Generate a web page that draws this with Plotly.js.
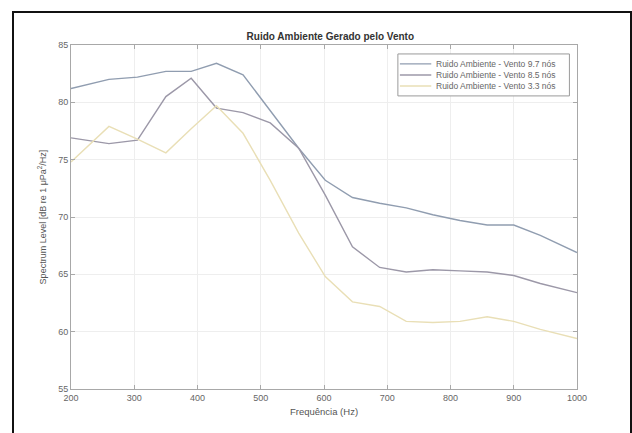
<!DOCTYPE html>
<html>
<head>
<meta charset="utf-8">
<script src="https://cdn.plot.ly/plotly-3.0.1.min.js"></script>
<style>
html,body{margin:0;padding:0;background:#fff;}
#frame{position:absolute;left:12px;top:11px;width:616px;height:430px;border-left:2px solid #111;border-top:2px solid #111;border-right:2px solid #111;pointer-events:none;z-index:10;}
#chart{position:absolute;left:0;top:0;width:632px;height:433px;}
</style>
</head>
<body>
<div id="chart"></div>
<div id="frame"></div>
<script>
var freqHz = [200, 260, 305, 350, 390, 430, 472, 515, 560, 602, 645, 688, 730, 772, 815, 858, 900, 942, 1000];
var vento97 = [81.2, 82.0, 82.2, 82.7, 82.7, 83.4, 82.4, 79.3, 76.0, 73.2, 71.7, 71.2, 70.8, 70.2, 69.7, 69.3, 69.3, 68.4, 66.9];
var vento85 = [76.9, 76.4, 76.7, 80.5, 82.1, 79.5, 79.1, 78.2, 76.0, 71.9, 67.4, 65.6, 65.2, 65.4, 65.3, 65.2, 64.9, 64.2, 63.4];
var vento33 = [74.8, 77.9, 76.8, 75.6, 77.7, 79.7, 77.3, 73.2, 68.6, 64.8, 62.6, 62.2, 60.9, 60.8, 60.9, 61.3, 60.9, 60.2, 59.4];
var seriesNames = ["Ruido Ambiente - Vento 9.7 nós", "Ruido Ambiente - Vento 8.5 nós", "Ruido Ambiente - Vento 3.3 nós"];
var xTicks = [200, 300, 400, 500, 600, 700, 800, 900, 1000];
var yTicks = [55, 60, 65, 70, 75, 80, 85];

var colors = ["#909db0", "#9c98a8", "#e9dfb6"];
var traces = [vento97, vento85, vento33].map(function(v, i){
  return {x: freqHz, y: v, type: "scatter", mode: "lines", name: seriesNames[i],
          line: {color: colors[i], width: 1.4}, showlegend: false};
});

var font = "Liberation Sans, Arial, sans-serif";

// compact legend (MATLAB style) built from the series names/colours
var legX0 = 0.646, legX1 = 0.985, legY0 = 0.852, legY1 = 0.974;
var entryY = [0.945, 0.913, 0.881];
var shapes = [{type: "rect", xref: "paper", yref: "paper", x0: legX0, x1: legX1, y0: legY0, y1: legY1,
               line: {color: "#9a9a9a", width: 1}, fillcolor: "#ffffff", layer: "above"}];
var annotations = [];
seriesNames.forEach(function(n, i){
  shapes.push({type: "line", xref: "paper", yref: "paper", x0: 0.650, x1: 0.712, y0: entryY[i], y1: entryY[i],
               line: {color: colors[i], width: 1.4}, layer: "above"});
  annotations.push({xref: "paper", yref: "paper", x: 0.718, y: entryY[i], xanchor: "left", yanchor: "middle",
                    text: n, showarrow: false, font: {family: font, size: 8.5, color: "#666"}});
});

var layout = {
  width: 632, height: 433,
  margin: {l: 71, r: 55, t: 45, b: 44, pad: 0},
  paper_bgcolor: "#ffffff", plot_bgcolor: "#ffffff",
  font: {family: font, size: 9, color: "#555"},
  title: {text: "<b>Ruido Ambiente Gerado pelo Vento</b>", font: {family: font, size: 10, color: "#333"},
          x: 0.5125, xanchor: "center", y: 0.915, yanchor: "middle", xref: "paper"},
  xaxis: {range: [200, 1000], tickvals: xTicks, ticktext: xTicks.map(String),
          showgrid: true, gridcolor: "#eeeeee", gridwidth: 1, zeroline: false,
          showline: true, linecolor: "#a8a8a8", linewidth: 1, mirror: "ticks",
          ticks: "inside", ticklen: 4, tickcolor: "#a8a8a8",
          tickfont: {family: font, size: 9, color: "#666"},
          title: {text: "Frequência (Hz)", font: {family: font, size: 9.5, color: "#555"}, standoff: 6}},
  yaxis: {range: [55, 85], tickvals: yTicks, ticktext: yTicks.map(String),
          showgrid: true, gridcolor: "#eeeeee", gridwidth: 1, zeroline: false,
          showline: true, linecolor: "#a8a8a8", linewidth: 1, mirror: "ticks",
          ticks: "inside", ticklen: 4, tickcolor: "#a8a8a8",
          tickfont: {family: font, size: 9, color: "#666"},
          title: {text: "Spectrum Level [dB re 1 μPa<sup>2</sup>/Hz]", font: {family: font, size: 9, color: "#555"}, standoff: 10}},
  showlegend: false,
  shapes: shapes,
  annotations: annotations
};
Plotly.newPlot("chart", traces, layout, {staticPlot: true});
</script>
</body>
</html>
